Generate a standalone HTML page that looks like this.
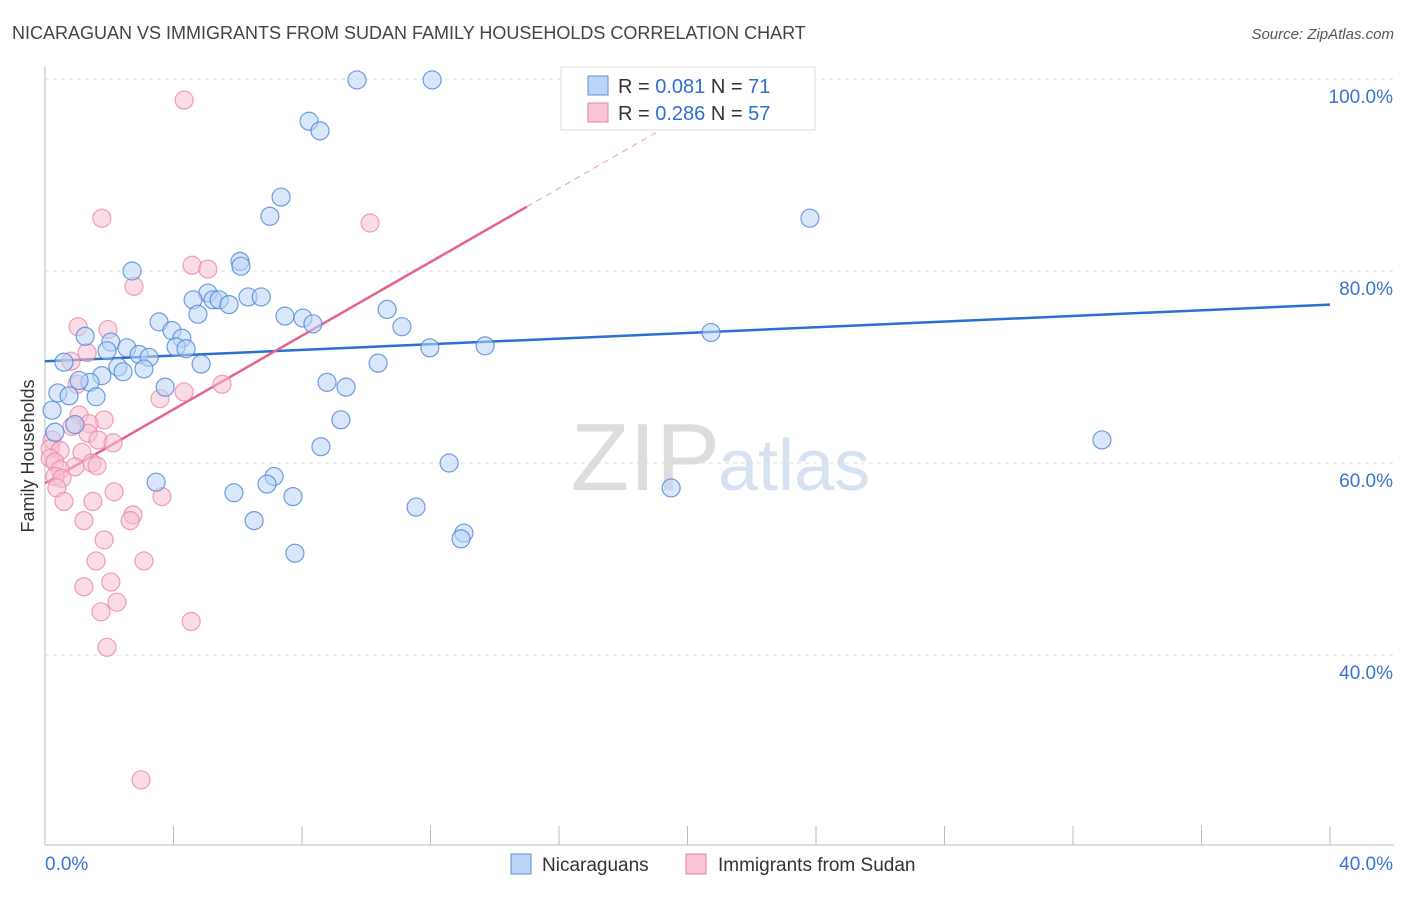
<!DOCTYPE html>
<html><head><meta charset="utf-8">
<style>
body{margin:0;background:#fff;font-family:"Liberation Sans",sans-serif;}
svg text{font-family:"Liberation Sans",sans-serif;}
</style></head>
<body>
<svg id="chart" width="1406" height="892" viewBox="0 0 1406 892" xmlns="http://www.w3.org/2000/svg">
<text x="12" y="39" font-size="18" fill="#444">NICARAGUAN VS IMMIGRANTS FROM SUDAN FAMILY HOUSEHOLDS CORRELATION CHART</text>
<text x="1394" y="39" font-size="15" fill="#555" font-style="italic" text-anchor="end">Source: ZipAtlas.com</text>
<text x="720" y="490" font-size="96" fill="#ddd" text-anchor="end" font-family="Liberation Serif">ZIP</text>
<text x="718" y="490" font-size="72" fill="#d6e2f2">atlas</text>
<g id="grid"></g>
<g id="axes"></g>
<g id="lines"></g>
<g id="pts"></g>
<text transform="translate(34,456) rotate(-90)" font-size="18" fill="#333" text-anchor="middle">Family Households</text>
<g>
<rect x="561" y="67" width="254" height="63" fill="#fff" stroke="#ddd"/>
<rect x="588" y="76" width="20" height="19" fill="#bcd4f5" stroke="#5b8fd8"/>
<text x="618" y="93" font-size="20" fill="#333">R = <tspan fill="#2b6fd6">0.081</tspan>   N = <tspan fill="#2b6fd6">71</tspan></text>
<rect x="588" y="103" width="20" height="19" fill="#f8c6d4" stroke="#e683a3"/>
<text x="618" y="120" font-size="20" fill="#333">R = <tspan fill="#2b6fd6">0.286</tspan>   N = <tspan fill="#2b6fd6">57</tspan></text>
</g>
<g>
<rect x="511" y="854" width="20" height="20" fill="#bcd4f5" stroke="#5b8fd8"/>
<text x="542" y="871" font-size="19" fill="#333">Nicaraguans</text>
<rect x="686" y="854" width="20" height="20" fill="#f8c6d4" stroke="#e683a3"/>
<text x="718" y="871" font-size="19" fill="#333">Immigrants from Sudan</text>
</g>
</svg>
<script>
const xTicks=[0,40];
const yTicks=[40,60,80,100];
const blueX=[9.71,12.05,21.88,8.22,8.56,7.35,7.0,23.81,6.07,6.1,2.71,5.07,4.61,6.32,6.73,5.23,5.42,5.73,4.76,7.47,8.03,8.34,10.65,3.55,3.95,11.11,1.25,4.26,2.05,4.08,4.39,2.55,1.93,11.98,13.7,20.73,2.93,3.24,0.59,2.27,3.08,2.43,4.86,10.37,1.77,1.4,1.06,8.78,9.37,3.74,0.4,1.59,0.75,0.22,9.21,0.93,0.31,32.9,8.59,12.58,3.46,7.13,6.91,19.49,5.88,7.72,11.55,6.51,13.04,12.95,7.78];
const blueY=[99.9,99.9,99.9,95.6,94.6,87.7,85.7,85.5,81.0,80.5,80.0,77.7,77.0,77.3,77.3,77.0,77.0,76.5,75.5,75.3,75.1,74.5,76.0,74.7,73.8,74.2,73.2,73.0,72.6,72.1,71.9,72.0,71.7,72.0,72.2,73.6,71.3,71.0,70.5,70.0,69.8,69.5,70.3,70.4,69.1,68.4,68.6,68.4,67.9,67.9,67.3,66.9,67.0,65.5,64.5,64.0,63.2,62.4,61.7,60.0,58.0,58.6,57.8,57.4,56.9,56.5,55.4,54.0,52.7,52.1,50.6];
const pinkX=[4.33,1.77,10.12,4.58,5.07,2.77,1.03,1.96,1.31,0.81,5.51,3.58,4.33,1.0,1.84,1.06,1.37,0.84,1.34,1.65,2.12,0.22,0.16,0.47,1.15,0.16,0.31,1.46,1.62,0.93,0.47,0.31,0.53,0.37,2.15,3.64,1.49,0.59,2.74,2.65,1.21,1.84,1.59,3.08,2.05,1.21,2.24,1.74,4.55,1.93,2.99];
const pinkY=[97.8,85.5,85.0,80.6,80.2,78.4,74.2,73.9,71.5,70.6,68.2,66.7,67.4,68.2,64.5,65.0,64.1,63.8,63.1,62.4,62.1,62.4,61.5,61.3,61.1,60.5,60.1,60.0,59.7,59.6,59.3,58.6,58.4,57.4,57.0,56.5,56.0,56.0,54.6,54.0,54.0,52.0,49.8,49.8,47.6,47.1,45.5,44.5,43.5,40.8,27.0];
const blueFit=[70.6,0.1475];
const pinkFit=[57.9,1.92];
const X=v=>45+v*32.125, Y=v=>79+(100-v)*9.6;
const NS="http://www.w3.org/2000/svg";
function mk(parent,tag,attrs){const e=document.createElementNS(NS,tag);for(const k in attrs)e.setAttribute(k,attrs[k]);document.getElementById(parent).appendChild(e);return e;}
yTicks.forEach(t=>{
 const l=mk('grid','line',{x1:45,x2:1394,y1:Y(t),y2:Y(t),stroke:'#ddd','stroke-dasharray':'4,4'});
 
 
 const tx=mk('grid','text',{x:1393,y:Y(t)+24,'font-size':19,fill:'#3a74d0','text-anchor':'end'});
 tx.textContent=t.toFixed(1)+'%';
 
 
});
const ax=mk('axes','line',{x1:45,x2:45,y1:67,y2:845,stroke:'#bbb'});


const bx=mk('axes','line',{x1:45,x2:1394,y1:845,y2:845,stroke:'#bbb'});


for(let i=1;i<=10;i++){const tm=mk('axes','line',{x1:X(i*4),x2:X(i*4),y1:826,y2:845,stroke:'#bbb'});
 
 }
xTicks.forEach((t,i)=>{const tx=mk('axes','text',{x:i?1393:45,y:870,'font-size':19,fill:'#3a74d0','text-anchor':i?'end':'start'});
 tx.textContent=t.toFixed(1)+'%';
 
 });
function pts(xs,ys,fill,stroke,name){xs.forEach((x,i)=>{const c=mk('pts','circle',{cx:X(x),cy:Y(ys[i]),r:9,fill:fill,'fill-opacity':0.55,stroke:stroke,'stroke-width':1.2,'stroke-opacity':0.8});
 
 });}
pts(pinkX,pinkY,'#f8c0d0','#e98aa8','sudan-point');
pts(blueX,blueY,'#bcd4f5','#4e86d6','nicaraguan-point');
const bl=mk('lines','line',{x1:X(0),y1:Y(blueFit[0]),x2:X(40),y2:Y(blueFit[0]+40*blueFit[1]),stroke:'#2a6fd4','stroke-width':2.5});


const pEnd=15;const pDash=(100-pinkFit[0])/pinkFit[1];
const pl=mk('lines','line',{x1:X(0),y1:Y(pinkFit[0]),x2:X(pEnd),y2:Y(pinkFit[0]+pEnd*pinkFit[1]),stroke:'#e5648e','stroke-width':2.5});


const pd=mk('lines','line',{x1:X(pEnd),y1:Y(pinkFit[0]+pEnd*pinkFit[1]),x2:X(pDash),y2:Y(100),stroke:'#f0a8bf','stroke-width':1.2,'stroke-dasharray':'6,5'});


</script>
</body></html>
